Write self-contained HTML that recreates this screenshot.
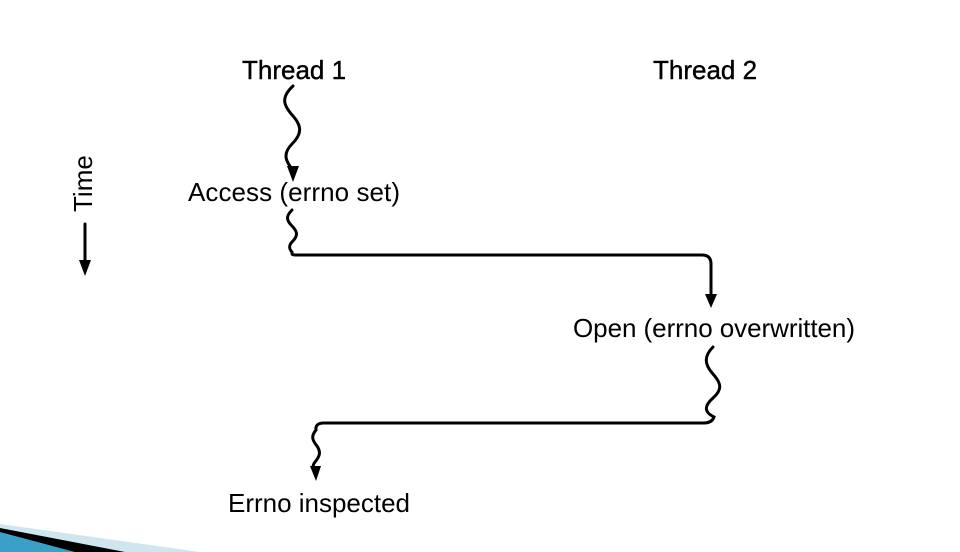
<!DOCTYPE html>
<html><head><style>
html,body{margin:0;padding:0;background:#fff;}
svg{display:block;}
text{font-family:"Liberation Sans",sans-serif;font-size:26px;fill:#000;}
</style></head><body>
<svg width="960" height="552" viewBox="0 0 960 552" xmlns="http://www.w3.org/2000/svg">
<polygon points="0,524 200,552 0,552" fill="#cfe6f0"/>
<polygon points="0,528 125,552 0,552" fill="#000"/>
<polygon points="0,532 75,552 0,552" fill="#3aa0c8"/>
<text x="242" y="79" font-size="25" stroke="#000" stroke-width="0.4">Thread 1</text>
<text x="653" y="79" font-size="25" stroke="#000" stroke-width="0.4">Thread 2</text>
<text x="188" y="201" textLength="212">Access (errno set)</text>
<text x="573" y="337" textLength="282">Open (errno overwritten)</text>
<text x="228" y="512" textLength="182">Errno inspected</text>
<text transform="translate(92,212) rotate(-90)" font-size="21">Time</text>
<g fill="none" stroke="#000" stroke-width="3" stroke-linecap="round">
<line x1="85" y1="224" x2="85" y2="262"/>
<path d="M293,86 C280,98 284,106 293,116 C302,126 302,134 292,144 C282,154 286,162 293,170"/>
<path d="M292,210 C286,216 286,220 292,226 C298,232 298,236 292,242 C288,246 290,250 292,252 L292,254 Q292,255 296,255 L702,255 Q711,255 711,264 L711,295"/>
<path d="M713,347 C704,356 704,364 713,374 C722,384 722,390 713,398 C704,406 704,412 714,417 Q712,423 704,423 L324,423 Q315,423 316,430 C311,436 312,440 317,446 C321,452 320,456 315,462 C312,466 313,469 315,470"/>
</g>
<polygon points="79,260 91,260 85,276" fill="#000"/>
<polygon points="287,166 299,166 293,182" fill="#000"/>
<polygon points="705,294 717,294 711,308" fill="#000"/>
<polygon points="310,466 321,466 316,481" fill="#000"/>
</svg>
</body></html>
